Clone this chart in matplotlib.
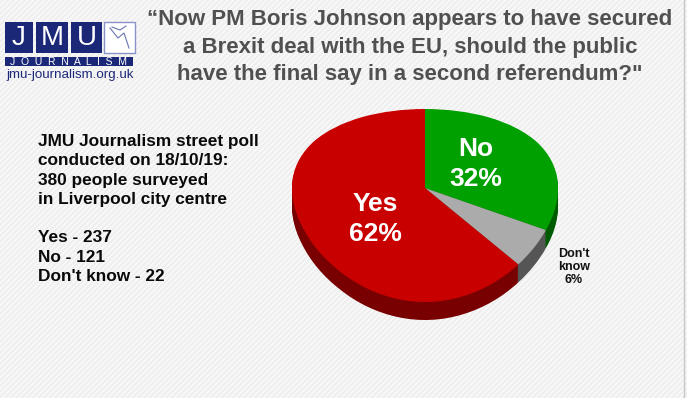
import numpy as np
import matplotlib.pyplot as plt
from matplotlib.patches import Rectangle

plt.rcParams['font.family'] = ['Liberation Sans', 'DejaVu Sans']

# poll data
answers = ['No', "Don't know", 'Yes']
counts = [121, 22, 237]
top_colors = ['#00a000', '#ababab', '#c80000']
side_colors = ['#005a00', '#555555', '#780000']

title = ('\u201cNow PM Boris Johnson appears to have secured\n'
         'a Brexit deal with the EU, should the public\n'
         'have the final say in a second referendum?"')
info_lines = ['JMU Journalism street poll',
              'conducted on 18/10/19:',
              '380 people surveyed',
              'in Liverpool city centre',
              '',
              'Yes - 237',
              'No - 121',
              "Don't know - 22"]

W, H = 687, 398
fig = plt.figure(figsize=(W / 100, H / 100), dpi=100)

# background with faint diagonal stripes
bg = fig.add_axes([0, 0, 1, 1])
bg.set_xlim(0, W)
bg.set_ylim(H, 0)
bg.axis('off')
plt.rcParams['hatch.linewidth'] = 1.0
bg.add_patch(Rectangle((0, 0), W, H, facecolor='#efefef', edgecolor='#fbfbfb',
                       hatch='//////', linewidth=0))
bg.plot([684, 684], [0, H], color='#c8c8c8', lw=1)

# logo
navy = '#1b2878'
for x0, x1, letter in [(5, 33, 'J'), (36, 68, 'M'), (71, 102, 'U')]:
    bg.add_patch(Rectangle((x0, 22), x1 - x0, 31, facecolor=navy, edgecolor='none'))
    bg.text((x0 + x1) / 2, 38, letter, color='white', fontsize=20,
            ha='center', va='center')
bg.add_patch(Rectangle((104, 22), 31, 31, facecolor='white', edgecolor='#8a93c8', lw=1))
bg.plot([110, 118, 124, 129], [28, 38, 33, 48], color='#6a74b0', lw=0.8)
bg.plot([112, 120, 126], [27, 30, 26], color='#6a74b0', lw=0.8)
bg.add_patch(Rectangle((5, 57), 128, 9, facecolor=navy, edgecolor='none'))
bg.text(69, 61.8, 'J  O  U  R  N  A  L  I  S  M', color='white', fontsize=7.5,
        ha='center', va='center')
bg.text(70, 75, 'jmu-journalism.org.uk', color=navy, fontsize=9.6,
        ha='center', va='center')

# title
bg.text(410, 47, title, color='#505050', fontsize=16, fontweight='bold',
        ha='center', va='center', linespacing=1.42)

# info block
bg.text(38, 209, '\n'.join(info_lines), color='#0a0a0a', fontsize=12.4,
        fontweight='bold', ha='left', va='center', linespacing=1.36)


# perspective pie: vertex at y=188, top edge 109, front edge 302 (pixels)
c = 0.1813


def persp(y):
    return y / (1 + c * y)


def persp_inv(t):
    return t / (1 - c * t)


cx, rx = 425, 133
top_px, bot_px = 109, 302
depth = 18


def pie_axes(shift, colors):
    a = fig.add_axes([(cx - rx) / W, 1 - (bot_px + shift) / H,
                      2 * rx / W, (bot_px - top_px) / H])
    a.set_yscale('function', functions=(persp, persp_inv))
    a.pie(counts, colors=colors, startangle=90, counterclock=False,
          radius=1, wedgeprops=dict(linewidth=0))
    a.set_aspect('auto')
    a.set_xlim(-1, 1)
    a.set_ylim(-1, 1)
    a.axis('off')
    return a


for d in np.arange(depth, 0, -1.5):
    pie_axes(d, side_colors)
pie_axes(0, top_colors)

# slice labels on top
lab = fig.add_axes([0, 0, 1, 1])
lab.set_xlim(0, W)
lab.set_ylim(H, 0)
lab.axis('off')
lab.text(476, 164, 'No\n32%', color='white', fontsize=19, fontweight='bold',
         ha='center', va='center', linespacing=1.35)
lab.text(375, 219, 'Yes\n62%', color='white', fontsize=19, fontweight='bold',
         ha='center', va='center', linespacing=1.35)
lab.text(574, 267, "Don't\nknow\n6%", color='#111111', fontsize=9,
         fontweight='bold', ha='center', va='center', linespacing=1.1)

fig.savefig('out.png', dpi=100, facecolor=fig.get_facecolor())
